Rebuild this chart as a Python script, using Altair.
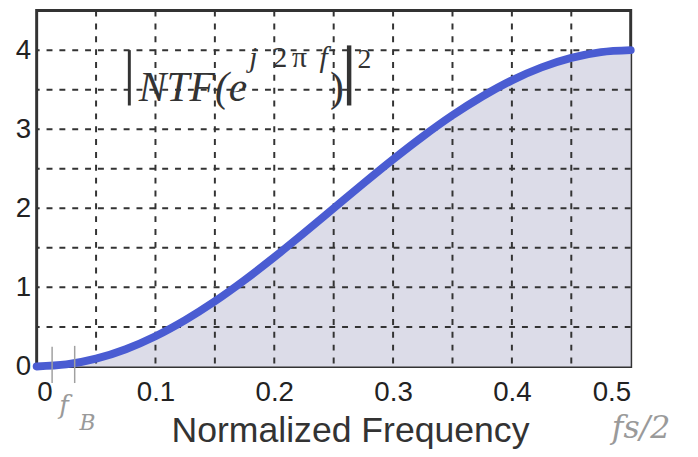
import altair as alt
import pandas as pd

# curve
freq = [0, 0.025, 0.05, 0.075, 0.1, 0.125, 0.15, 0.175, 0.2, 0.225, 0.25,
        0.275, 0.3, 0.325, 0.35, 0.375, 0.4, 0.425, 0.45, 0.475, 0.5]
ntf = [0, 0.025, 0.098, 0.218, 0.382, 0.586, 0.824, 1.092, 1.382, 1.687, 2.0,
       2.313, 2.618, 2.908, 3.176, 3.414, 3.618, 3.782, 3.902, 3.975, 4.0]

x_grid = [0.05, 0.1, 0.15, 0.2, 0.25, 0.3, 0.35, 0.4, 0.45]
y_grid = [0.5, 1.0, 1.5, 2.0, 2.5, 3.0, 3.5, 4.0]
x_labels = [0, 0.1, 0.2, 0.3, 0.4, 0.5]
y_labels = [0, 1, 2, 3, 4]

# formula label pieces: italic ones and upright ones (text, x, y, size)
ital_text = ["NTF(e", "j", "f"]
ital_x = [0.086, 0.179, 0.238]
ital_y = [3.36, 3.79, 3.79]
ital_size = [42, 30, 30]
up_text = ["2", "\u03c0", ")", "2"]
up_x = [0.1986, 0.215, 0.247, 0.27]
up_y = [3.79, 3.79, 3.36, 3.78]
up_size = [30, 30, 42, 28]
bar_x = [0.078, 0.263]
bar_y1 = [3.3, 3.3]
bar_y2 = [4.0, 4.06]
bar_w = [3, 4.5]

# handwritten notes
note_text = ["f", "B", "fs/2"]
note_x = [0.019, 0.036, 0.484]
note_y = [-0.6, -0.8, -0.9]
note_size = [26, 22, 32]
mark_x = [0.013, 0.032]
mark_y1 = [-0.21, -0.21]
mark_y2 = [0.25, 0.26]

xs = alt.Scale(domain=[0, 0.5], nice=False, zero=False)
ys = alt.Scale(domain=[0, 4.5], nice=False, zero=False)

curve = pd.DataFrame({"f": freq, "v": ntf})

area = alt.Chart(curve).mark_area(color="#dcdce8", opacity=1,
                                  interpolate="monotone").encode(
    x=alt.X("f:Q", scale=xs, axis=alt.Axis(
        values=x_labels, format="~g", title="Normalized Frequency",
        grid=False, ticks=False, domain=False,
        labelFont="Liberation Sans", labelFontSize=28, labelColor="#222",
        labelPadding=12, titleFont="Liberation Sans", titleFontSize=36,
        titleFontWeight="normal", titleColor="#333", titlePadding=8,
        titleX=317)),
    y=alt.Y("v:Q", scale=ys, axis=alt.Axis(
        values=y_labels, format="d", title=None,
        grid=False, ticks=False, domain=False,
        labelFont="Liberation Sans", labelFontSize=28, labelColor="#222",
        labelPadding=6)),
)

vgrid = alt.Chart(pd.DataFrame({"g": x_grid})).mark_rule(
    color="#333", strokeWidth=2, strokeDash=[6, 7]).encode(
    x=alt.X("g:Q", scale=xs))
hgrid = alt.Chart(pd.DataFrame({"g": y_grid})).mark_rule(
    color="#333", strokeWidth=2, strokeDash=[6, 7]).encode(
    y=alt.Y("g:Q", scale=ys))

line = alt.Chart(curve).mark_line(color="#4a5cd2", strokeWidth=8,
                                  strokeCap="round",
                                  interpolate="monotone").encode(
    x=alt.X("f:Q", scale=xs), y=alt.Y("v:Q", scale=ys))

ital = alt.Chart(pd.DataFrame({"t": ital_text, "x": ital_x, "y": ital_y,
                               "s": ital_size})).mark_text(
    font="Liberation Serif", fontStyle="italic", align="left",
    baseline="alphabetic", color="#333").encode(
    x=alt.X("x:Q", scale=xs), y=alt.Y("y:Q", scale=ys), text="t:N",
    size=alt.Size("s:Q", scale=None, legend=None))

up = alt.Chart(pd.DataFrame({"t": up_text, "x": up_x, "y": up_y,
                             "s": up_size})).mark_text(
    font="Liberation Serif", align="left",
    baseline="alphabetic", color="#333").encode(
    x=alt.X("x:Q", scale=xs), y=alt.Y("y:Q", scale=ys), text="t:N",
    size=alt.Size("s:Q", scale=None, legend=None))

bars = alt.Chart(pd.DataFrame({"x": bar_x, "y1": bar_y1, "y2": bar_y2,
                               "w": bar_w})).mark_rule(color="#333").encode(
    x=alt.X("x:Q", scale=xs), y=alt.Y("y1:Q", scale=ys), y2="y2:Q",
    strokeWidth=alt.StrokeWidth("w:Q", scale=None, legend=None))

notes = alt.Chart(pd.DataFrame({"t": note_text, "x": note_x, "y": note_y,
                                "s": note_size})).mark_text(
    font="DejaVu Serif", fontStyle="italic", align="left",
    baseline="alphabetic", color="#9a9a9a").encode(
    x=alt.X("x:Q", scale=xs), y=alt.Y("y:Q", scale=ys), text="t:N",
    size=alt.Size("s:Q", scale=None, legend=None))

marks = alt.Chart(pd.DataFrame({"x": mark_x, "y1": mark_y1,
                                "y2": mark_y2})).mark_rule(
    color="#a0a0a0", strokeWidth=1.5).encode(
    x=alt.X("x:Q", scale=xs), y=alt.Y("y1:Q", scale=ys), y2="y2:Q")

chart = alt.layer(area, vgrid, hgrid, line, ital, up, bars, notes, marks).properties(
    width=601, height=360,
    autosize=alt.AutoSizeParams(type="none"),
    padding={"left": 29, "top": 0, "right": 60, "bottom": 89},
    background="white",
).configure_view(stroke="#333", strokeWidth=3)

chart.save("out.html", embed_options={"renderer": "svg", "actions": False})
